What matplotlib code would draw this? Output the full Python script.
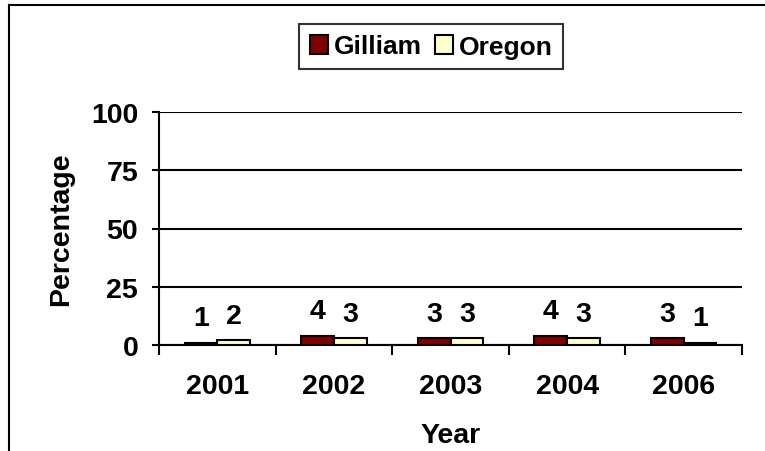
import matplotlib
matplotlib.use("Agg")
import matplotlib.pyplot as plt
from matplotlib.lines import Line2D
import numpy as np

years = ["2001", "2002", "2003", "2004", "2006"]
gilliam = [1, 4, 3, 4, 3]
oregon = [2, 3, 3, 3, 1]
series_names = ["Gilliam", "Oregon"]
series_colors = ["#800000", "#FFFFCC"]
y_ticks = [0, 25, 50, 75, 100]

plt.rcParams["font.family"] = ["Liberation Sans", "DejaVu Sans"]
plt.rcParams["font.weight"] = "bold"
FS = 20.5

W, H = 765, 452
fig = plt.figure(figsize=(W / 100, H / 100), dpi=100)
ax = fig.add_axes([159 / W, 1 - 346 / H, (742 - 159) / W, (346 - 113) / H])

x = np.arange(len(years))
bw = 0.28
for vals, name, col, off in zip([gilliam, oregon], series_names, series_colors, [-bw / 2, bw / 2]):
    ax.bar(x + off, vals, width=bw, color=col, edgecolor="black",
           linewidth=1.5, label=name, zorder=3)
    for xi, v in zip(x + off, vals):
        ax.annotate(str(v), (xi, v), xytext=(0, 12.5), textcoords="offset points",
                    ha="center", va="baseline", fontsize=FS, fontweight="bold")

ax.set_xlim(-0.5, len(years) - 0.5)
ax.set_ylim(0, 100)
ax.set_yticks(y_ticks)
ax.set_yticklabels([str(t) for t in y_ticks], fontsize=FS, fontweight="bold")
ax.yaxis.grid(True, color="black", linewidth=1.5, zorder=0)
ax.set_axisbelow(True)

# category boundaries carry the ticks, centers carry the labels
ax.set_xticks(np.arange(len(years) + 1) - 0.5)
ax.set_xticklabels([])
ax.set_xticks(x, minor=True)
ax.set_xticklabels(years, minor=True, fontsize=FS, fontweight="bold")
ax.tick_params(axis="x", which="major", length=7, width=1.5, direction="out")
ax.tick_params(axis="x", which="minor", length=0, pad=20)
ax.tick_params(axis="y", length=5, width=1.5, direction="out", pad=10)

for s in ["top", "right"]:
    ax.spines[s].set_visible(False)
for s in ["left", "bottom"]:
    ax.spines[s].set_linewidth(1.5)

ax.set_ylabel("Percentage", fontsize=FS, fontweight="bold", labelpad=12)
ax.set_xlabel("Year", fontsize=FS, fontweight="bold", labelpad=17)

leg = fig.legend(loc="center", bbox_to_anchor=(431 / W, 1 - 47.5 / H), ncol=2,
                 fontsize=19, frameon=True, fancybox=False, shadow=False,
                 handlelength=0.7, handleheight=0.75, handletextpad=0.2,
                 columnspacing=0.5, borderpad=0.4, borderaxespad=0)
leg.get_frame().set_edgecolor("black")
leg.get_frame().set_linewidth(1.5)

# outer chart-area border (left and top edges)
fig.add_artist(Line2D([9 / W, 9 / W], [0, 1 - 6 / H], transform=fig.transFigure,
                      color="black", linewidth=1.5))
fig.add_artist(Line2D([9 / W, 1], [1 - 6 / H, 1 - 6 / H], transform=fig.transFigure,
                      color="black", linewidth=1.5))

fig.savefig("out.png", dpi=100)
